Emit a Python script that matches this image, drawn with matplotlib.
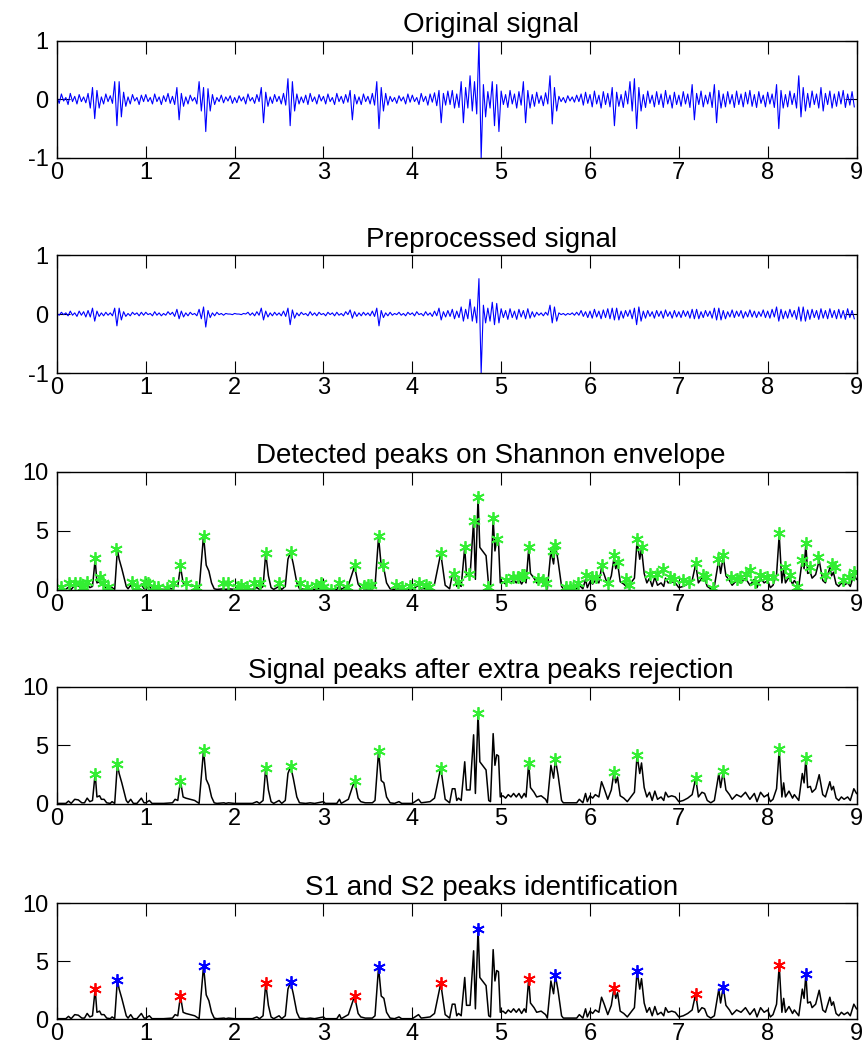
import numpy as np
import matplotlib.pyplot as plt

plt.rcParams['font.family'] = ['Liberation Sans', 'DejaVu Sans']
plt.rcParams['axes.unicode_minus'] = False

# signals are stored as upper/lower extent per 0.05 s bin
BIN = 0.05

orig_hi = [
    0.04, 0.09, 0.03, 0.10, 0.05, 0.08, 0.04, 0.10, 0.20, 0.15, 0.04, 0.09, 0.06, 0.30, 0.30, 0.12, 0.04, 0.08, 0.03, 0.07,
    0.08, 0.03, 0.09, 0.04, 0.06, 0.10, 0.05, 0.20, 0.10, 0.04, 0.07, 0.03, 0.30, 0.20, 0.18, 0.08, 0.03, 0.07, 0.04, 0.06,
    0.03, 0.06, 0.04, 0.09, 0.03, 0.08, 0.20, 0.12, 0.04, 0.08, 0.05, 0.10, 0.35, 0.30, 0.09, 0.04, 0.07, 0.10, 0.04, 0.08,
    0.05, 0.09, 0.03, 0.10, 0.05, 0.08, 0.15, 0.08, 0.04, 0.09, 0.05, 0.10, 0.30, 0.20, 0.10, 0.05, 0.03, 0.06, 0.04, 0.09,
    0.07, 0.03, 0.10, 0.05, 0.09, 0.11, 0.15, 0.10, 0.14, 0.15, 0.09, 0.30, 0.20, 0.40, 0.30, 1.00, 0.25, 0.13, 0.30, 0.25,
    0.14, 0.08, 0.15, 0.09, 0.13, 0.30, 0.15, 0.08, 0.12, 0.06, 0.11, 0.40, 0.20, 0.05, 0.03, 0.06, 0.04, 0.07, 0.09, 0.12,
    0.08, 0.14, 0.07, 0.13, 0.10, 0.20, 0.12, 0.08, 0.14, 0.30, 0.35, 0.20, 0.08, 0.14, 0.07, 0.13, 0.09, 0.15, 0.07, 0.12,
    0.07, 0.13, 0.09, 0.25, 0.10, 0.14, 0.07, 0.12, 0.25, 0.15, 0.09, 0.13, 0.08, 0.14, 0.09, 0.12, 0.15, 0.08, 0.13, 0.07,
    0.12, 0.09, 0.25, 0.15, 0.08, 0.14, 0.10, 0.40, 0.20, 0.10, 0.14, 0.09, 0.20, 0.10, 0.14, 0.09, 0.13, 0.15, 0.09, 0.13,
]
orig_lo = [
    -0.07, -0.03, -0.09, -0.04, -0.08, -0.04, -0.06, -0.15, -0.33, -0.15, -0.08, -0.04, -0.07, -0.45, -0.30, -0.12, -0.08, -0.03, -0.09, -0.04,
    -0.04, -0.08, -0.04, -0.09, -0.04, -0.07, -0.09, -0.35, -0.12, -0.08, -0.03, -0.08, -0.20, -0.55, -0.20, -0.09, -0.04, -0.06, -0.03, -0.07,
    -0.06, -0.03, -0.08, -0.03, -0.07, -0.04, -0.40, -0.12, -0.07, -0.04, -0.08, -0.10, -0.45, -0.20, -0.08, -0.06, -0.09, -0.04, -0.08, -0.03,
    -0.08, -0.04, -0.09, -0.04, -0.07, -0.05, -0.35, -0.08, -0.09, -0.04, -0.08, -0.10, -0.50, -0.20, -0.10, -0.04, -0.07, -0.03, -0.08, -0.05,
    -0.04, -0.09, -0.04, -0.10, -0.05, -0.11, -0.40, -0.10, -0.09, -0.15, -0.14, -0.40, -0.15, -0.20, -0.25, -1.00, -0.30, -0.15, -0.45, -0.55,
    -0.09, -0.14, -0.08, -0.15, -0.10, -0.40, -0.15, -0.12, -0.07, -0.11, -0.08, -0.42, -0.20, -0.04, -0.06, -0.03, -0.05, -0.04, -0.10, -0.07,
    -0.13, -0.08, -0.15, -0.09, -0.13, -0.45, -0.12, -0.14, -0.08, -0.20, -0.50, -0.20, -0.14, -0.07, -0.13, -0.09, -0.14, -0.08, -0.15, -0.09,
    -0.12, -0.08, -0.14, -0.35, -0.09, -0.13, -0.08, -0.14, -0.40, -0.15, -0.13, -0.08, -0.14, -0.09, -0.13, -0.08, -0.12, -0.14, -0.07, -0.13,
    -0.08, -0.14, -0.50, -0.15, -0.13, -0.09, -0.15, -0.30, -0.20, -0.14, -0.09, -0.15, -0.20, -0.09, -0.15, -0.12, -0.08, -0.14, -0.10, -0.13,
]

pre_hi = [
    0.01, 0.03, 0.02, 0.05, 0.02, 0.05, 0.04, 0.06, 0.10, 0.05, 0.02, 0.03, 0.02, 0.10, 0.10, 0.04, 0.01, 0.03, 0.02, 0.03,
    0.03, 0.01, 0.04, 0.02, 0.01, 0.04, 0.03, 0.08, 0.05, 0.02, 0.03, 0.01, 0.08, 0.12, 0.06, 0.02, 0.03, 0.01, 0.01, 0.00,
    0.01, 0.00, 0.01, 0.03, 0.02, 0.04, 0.10, 0.05, 0.02, 0.03, 0.02, 0.05, 0.10, 0.07, 0.02, 0.03, 0.01, 0.04, 0.02, 0.03,
    0.01, 0.03, 0.02, 0.03, 0.01, 0.04, 0.07, 0.04, 0.02, 0.03, 0.02, 0.05, 0.10, 0.06, 0.02, 0.03, 0.01, 0.03, 0.01, 0.03,
    0.02, 0.04, 0.01, 0.04, 0.02, 0.05, 0.10, 0.04, 0.06, 0.08, 0.05, 0.12, 0.08, 0.25, 0.12, 0.60, 0.15, 0.10, 0.20, 0.18,
    0.09, 0.06, 0.09, 0.05, 0.08, 0.06, 0.09, 0.04, 0.03, 0.02, 0.03, 0.15, 0.12, 0.02, 0.01, 0.01, 0.02, 0.03, 0.06, 0.04,
    0.05, 0.08, 0.05, 0.07, 0.09, 0.10, 0.10, 0.05, 0.06, 0.07, 0.10, 0.12, 0.05, 0.06, 0.04, 0.06, 0.05, 0.07, 0.04, 0.06,
    0.04, 0.06, 0.05, 0.08, 0.08, 0.04, 0.06, 0.05, 0.10, 0.10, 0.06, 0.04, 0.07, 0.05, 0.06, 0.04, 0.07, 0.05, 0.04, 0.07,
    0.05, 0.08, 0.12, 0.08, 0.05, 0.08, 0.06, 0.12, 0.12, 0.07, 0.08, 0.06, 0.09, 0.06, 0.09, 0.06, 0.08, 0.06, 0.09, 0.06,
]
pre_lo = [
    -0.02, -0.01, -0.03, -0.02, -0.04, -0.02, -0.05, -0.05, -0.12, -0.04, -0.03, -0.02, -0.03, -0.20, -0.10, -0.04, -0.03, -0.01, -0.03, -0.02,
    -0.01, -0.03, -0.02, -0.03, -0.02, -0.01, -0.04, -0.08, -0.05, -0.03, -0.01, -0.03, -0.08, -0.22, -0.06, -0.03, -0.01, -0.02, -0.00, -0.01,
    -0.00, -0.01, -0.00, -0.02, -0.03, -0.02, -0.10, -0.05, -0.03, -0.02, -0.03, -0.04, -0.18, -0.07, -0.03, -0.01, -0.03, -0.02, -0.03, -0.01,
    -0.03, -0.01, -0.03, -0.02, -0.03, -0.01, -0.07, -0.04, -0.03, -0.02, -0.03, -0.04, -0.20, -0.06, -0.03, -0.02, -0.01, -0.02, -0.03, -0.01,
    -0.03, -0.01, -0.03, -0.02, -0.04, -0.03, -0.10, -0.05, -0.04, -0.08, -0.06, -0.12, -0.08, -0.12, -0.15, -1.00, -0.15, -0.12, -0.18, -0.15,
    -0.06, -0.09, -0.06, -0.09, -0.05, -0.08, -0.07, -0.05, -0.02, -0.03, -0.02, -0.15, -0.12, -0.01, -0.02, -0.01, -0.02, -0.02, -0.04, -0.06,
    -0.07, -0.05, -0.08, -0.06, -0.08, -0.10, -0.10, -0.07, -0.04, -0.08, -0.18, -0.12, -0.07, -0.04, -0.07, -0.04, -0.07, -0.04, -0.07, -0.05,
    -0.06, -0.04, -0.07, -0.08, -0.08, -0.06, -0.04, -0.07, -0.10, -0.10, -0.08, -0.05, -0.06, -0.04, -0.07, -0.05, -0.05, -0.06, -0.04, -0.06,
    -0.07, -0.05, -0.12, -0.08, -0.07, -0.05, -0.09, -0.12, -0.12, -0.09, -0.06, -0.09, -0.07, -0.08, -0.06, -0.08, -0.07, -0.09, -0.06, -0.08,
]

# Shannon envelope breakpoints (time s, value)
env_t = [
    0.00, 0.10, 0.13, 0.16, 0.20, 0.24, 0.28, 0.31, 0.34, 0.37, 0.40, 0.43, 0.45, 0.48, 0.50, 0.53, 0.56, 0.60, 0.62, 0.65,
    0.68, 0.70, 0.73, 0.75, 0.78, 0.80, 0.83, 0.86, 0.90, 0.95, 0.98, 1.00, 1.04, 1.07, 1.20, 1.30, 1.33, 1.36, 1.39, 1.42,
    1.45, 1.50, 1.55, 1.60, 1.65, 1.68, 1.71, 1.74, 1.77, 1.80, 1.88, 1.90, 1.93, 2.00, 2.20, 2.25, 2.28, 2.32, 2.35, 2.38,
    2.41, 2.44, 2.50, 2.53, 2.57, 2.60, 2.63, 2.66, 2.70, 2.73, 2.80, 2.85, 2.90, 3.00, 3.02, 3.15, 3.18, 3.20, 3.28, 3.35,
    3.39, 3.42, 3.47, 3.55, 3.58, 3.62, 3.65, 3.68, 3.71, 3.75, 3.80, 3.85, 3.88, 4.00, 4.07, 4.10, 4.15, 4.20, 4.25, 4.32,
    4.37, 4.42, 4.45, 4.48, 4.50, 4.52, 4.55, 4.59, 4.61, 4.65, 4.69, 4.71, 4.74, 4.76, 4.79, 4.83, 4.86, 4.88, 4.91, 4.93,
    4.95, 4.97, 4.99, 5.02, 5.05, 5.08, 5.11, 5.14, 5.17, 5.20, 5.23, 5.26, 5.28, 5.31, 5.33, 5.37, 5.40, 5.45, 5.50, 5.52,
    5.56, 5.59, 5.61, 5.64, 5.68, 5.70, 5.85, 5.88, 5.92, 5.95, 5.97, 6.00, 6.03, 6.06, 6.10, 6.13, 6.16, 6.20, 6.24, 6.27,
    6.29, 6.31, 6.34, 6.38, 6.42, 6.46, 6.50, 6.53, 6.56, 6.58, 6.61, 6.64, 6.67, 6.70, 6.73, 6.76, 6.80, 6.83, 6.85, 6.88,
    6.92, 6.96, 7.00, 7.05, 7.10, 7.15, 7.19, 7.22, 7.26, 7.29, 7.32, 7.36, 7.40, 7.45, 7.47, 7.50, 7.53, 7.57, 7.60, 7.65,
    7.70, 7.75, 7.80, 7.85, 7.88, 7.92, 7.96, 8.00, 8.03, 8.06, 8.10, 8.13, 8.16, 8.18, 8.20, 8.24, 8.28, 8.30, 8.35, 8.39,
    8.41, 8.43, 8.45, 8.48, 8.50, 8.54, 8.58, 8.62, 8.65, 8.68, 8.70, 8.72, 8.74, 8.77, 8.80, 8.83, 8.86, 8.90, 8.93, 8.97,
    9.00,
]
env_v = [
    0.05, 0.05, 0.25, 0.05, 0.40, 0.35, 0.10, 0.10, 0.50, 0.20, 0.30, 2.60, 0.60, 0.70, 0.40, 0.40, 0.10, 0.05, 0.20, 0.05,
    3.40, 2.60, 1.80, 1.20, 0.30, 0.10, 0.40, 0.05, 0.05, 0.50, 0.10, 0.10, 0.30, 0.05, 0.05, 0.10, 0.40, 0.30, 2.00, 0.60,
    0.50, 0.40, 0.30, 0.05, 4.60, 2.10, 1.60, 0.60, 0.10, 0.05, 0.10, 0.05, 0.10, 0.05, 0.05, 0.20, 0.05, 0.30, 3.10, 1.20,
    0.20, 0.05, 0.30, 0.05, 0.30, 2.60, 3.20, 2.20, 0.60, 0.10, 0.05, 0.10, 0.05, 0.20, 0.05, 0.05, 0.40, 0.05, 0.40, 2.00,
    0.50, 0.20, 0.10, 0.10, 0.30, 4.50, 2.00, 1.80, 0.60, 0.10, 0.05, 0.20, 0.05, 0.05, 0.40, 0.10, 0.15, 0.20, 0.50, 3.10,
    0.40, 0.10, 1.30, 1.30, 0.30, 0.50, 0.30, 3.60, 1.20, 1.20, 5.90, 0.90, 7.80, 3.60, 3.30, 2.90, 0.30, 0.20, 6.00, 3.30,
    4.20, 4.10, 0.60, 0.70, 0.50, 0.80, 0.60, 0.90, 0.60, 0.90, 0.50, 0.90, 0.60, 3.50, 1.40, 1.00, 0.60, 0.70, 0.40, 0.10,
    3.30, 2.20, 3.80, 2.50, 0.30, 0.10, 0.10, 0.40, 0.10, 0.90, 0.20, 0.70, 0.50, 0.80, 0.60, 1.90, 1.30, 0.40, 1.20, 2.70,
    1.80, 2.30, 0.70, 0.50, 0.20, 0.60, 1.00, 4.15, 2.60, 3.50, 1.40, 0.60, 1.00, 0.30, 1.10, 0.40, 0.60, 0.30, 1.00, 0.60,
    0.70, 0.60, 0.20, 0.30, 0.50, 0.80, 2.20, 0.60, 1.00, 0.90, 0.30, 0.10, 0.30, 2.60, 1.40, 2.80, 1.20, 0.80, 0.40, 0.80,
    0.60, 1.00, 0.40, 0.90, 0.20, 1.00, 0.60, 0.80, 0.20, 0.40, 1.30, 4.65, 0.60, 1.80, 0.60, 1.10, 0.50, 0.80, 0.30, 2.60,
    1.80, 3.90, 1.40, 1.50, 1.00, 1.30, 2.50, 0.80, 0.60, 1.40, 1.90, 1.20, 1.50, 0.50, 0.30, 0.60, 0.40, 0.60, 0.30, 1.30,
    0.90,
]

# all peaks found on the envelope (panel 3)
det_t = [
    0.04, 0.14, 0.20, 0.26, 0.29, 0.34, 0.43, 0.48, 0.52, 0.58, 0.67, 0.84, 0.90, 0.99, 1.03, 1.09, 1.14, 1.24, 1.31, 1.39,
    1.45, 1.56, 1.65, 1.87, 1.92, 2.04, 2.07, 2.14, 2.22, 2.29, 2.35, 2.50, 2.63, 2.74, 2.82, 2.92, 2.97, 3.00, 3.09, 3.17,
    3.26, 3.35, 3.46, 3.50, 3.53, 3.62, 3.67, 3.82, 3.88, 3.97, 4.07, 4.15, 4.19, 4.32, 4.47, 4.51, 4.59, 4.64, 4.69, 4.74,
    4.85, 4.91, 4.95, 5.06, 5.13, 5.19, 5.23, 5.26, 5.31, 5.41, 5.47, 5.50, 5.58, 5.61, 5.73, 5.77, 5.81, 5.86, 5.96, 6.02,
    6.07, 6.14, 6.20, 6.27, 6.32, 6.41, 6.44, 6.53, 6.58, 6.67, 6.75, 6.82, 6.90, 6.94, 7.05, 7.11, 7.19, 7.27, 7.31, 7.38,
    7.44, 7.50, 7.59, 7.65, 7.69, 7.76, 7.80, 7.86, 7.91, 7.99, 8.06, 8.13, 8.20, 8.25, 8.33, 8.39, 8.43, 8.48, 8.57, 8.65,
    8.72, 8.76, 8.85, 8.91, 8.97,
]
det_v = [
    0.28, 0.56, 0.61, 0.56, 0.28, 0.69, 2.70, 1.10, 0.56, 0.28, 3.45, 0.69, 0.28, 0.69, 0.56, 0.28, 0.28, 0.14, 0.56, 2.08,
    0.56, 0.28, 4.60, 0.56, 0.56, 0.28, 0.42, 0.28, 0.56, 0.56, 3.15, 0.56, 3.20, 0.56, 0.28, 0.42, 0.56, 0.28, 0.00, 0.56,
    0.28, 2.08, 0.33, 0.42, 0.42, 4.55, 2.08, 0.42, 0.28, 0.33, 0.56, 0.42, 0.28, 3.15, 1.39, 0.69, 3.61, 1.39, 5.83, 7.83,
    0.28, 6.11, 4.31, 0.83, 1.11, 1.11, 1.25, 1.25, 3.61, 0.97, 0.83, 0.56, 3.33, 3.83, 0.28, 0.28, 0.14, 0.56, 1.25, 1.11,
    1.11, 2.08, 0.56, 2.92, 2.36, 0.97, 0.42, 4.31, 3.61, 1.39, 1.39, 1.81, 1.11, 0.89, 0.83, 0.69, 2.28, 1.25, 1.11, 0.14,
    2.64, 2.92, 1.11, 0.97, 1.11, 1.39, 1.67, 0.69, 1.25, 1.11, 1.11, 4.81, 1.94, 1.25, 0.28, 2.50, 3.94, 1.94, 2.78, 1.25,
    2.22, 1.94, 0.83, 1.11, 1.53,
]

# peaks kept after rejection: S1 (red) and S2 (blue)
s1_t = [0.43, 1.39, 2.35, 3.35, 4.32, 5.31, 6.27, 7.19, 8.13]
s1_v = [2.60, 2.00, 3.10, 2.00, 3.10, 3.50, 2.70, 2.20, 4.65]
s2_t = [0.68, 1.65, 2.63, 3.62, 4.74, 5.61, 6.53, 7.50, 8.43]
s2_v = [3.40, 4.60, 3.20, 4.50, 7.80, 3.80, 4.15, 2.80, 3.90]

titles = ["Original signal", "Preprocessed signal", "Detected peaks on Shannon envelope",
          "Signal peaks after extra peaks rejection", "S1 and S2 peaks identification"]


def zigzag(hi, lo):
    t = np.arange(len(hi)) * BIN
    x = np.empty(2 * len(hi))
    y = np.empty(2 * len(hi))
    x[0::2] = t
    x[1::2] = t + BIN / 2
    y[0::2] = hi
    y[1::2] = lo
    return x, y


def style_axes(ax, ylim, yticks, title):
    ax.set_xlim(0, 9)
    ax.set_ylim(*ylim)
    ax.set_xticks(range(10))
    ax.set_yticks(yticks)
    ax.tick_params(direction='in', length=9, width=0.8, top=True, right=True, labelsize=17)
    ax.tick_params(axis='y', pad=6)
    ax.tick_params(axis='x', pad=3)
    for s in ax.spines.values():
        s.set_linewidth(1.0)
    ax.annotate(title, xy=(0.543, 1.0), xycoords='axes fraction', xytext=(0, 6),
                textcoords='offset points', ha='center', va='baseline', fontsize=20)


fig = plt.figure(figsize=(8.67, 10.47), dpi=100)
left, width = 0.0657, 0.9222
rows = [(0.8491, 0.1122), (0.6437, 0.1127), (0.4365, 0.1130), (0.2321, 0.1120), (0.0265, 0.1108)]
axs = [fig.add_axes([left, b, width, h]) for b, h in rows]

x, y = zigzag(orig_hi, orig_lo)
axs[0].plot(x, y, color='#0000ff', lw=0.8)
style_axes(axs[0], (-1, 1), [-1, 0, 1], titles[0])

x, y = zigzag(pre_hi, pre_lo)
axs[1].plot(x, y, color='#0000ff', lw=0.8)
style_axes(axs[1], (-1, 1), [-1, 0, 1], titles[1])

mk = (6, 2, 0)
for i in range(2, 5):
    axs[i].plot(env_t, env_v, color='black', lw=1.1)
    style_axes(axs[i], (0, 10), [0, 5, 10], titles[i])

axs[2].plot(det_t, det_v, ls='none', marker=mk, ms=9, mew=1.3, color='#33ee33')
axs[3].plot(s1_t + s2_t, s1_v + s2_v, ls='none', marker=mk, ms=9, mew=1.3, color='#33ee33')
axs[4].plot(s1_t, s1_v, ls='none', marker=mk, ms=9, mew=1.3, color='#ff0000')
axs[4].plot(s2_t, s2_v, ls='none', marker=mk, ms=9, mew=1.3, color='#0000ff')

fig.savefig('out.png', dpi=100)
